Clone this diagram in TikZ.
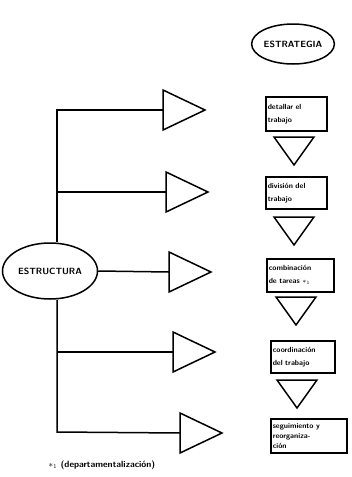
\documentclass[tikz,border=0pt]{standalone}
\usetikzlibrary{shapes.geometric,positioning}

\tikzset{
  wire/.style={line width=1.5pt},
  oval/.style={ellipse, draw, line width=1.5pt, inner sep=0pt,
    font=\sffamily\bfseries\fontsize{9}{10}\selectfont},
  taskbox/.style={draw, line width=1.5pt, anchor=north west, align=left,
    inner xsep=2pt, inner ysep=3pt,
    font=\sffamily\bfseries\fontsize{7.5}{13}\selectfont},
  downtri/.pic={\draw[wire] (-20,0) -- (20,0) -- (0,28) -- cycle;},
  righttri/.pic={\draw[wire] (0,-20) -- (0,20) -- (42,0) -- cycle;},
}

\begin{document}
\begin{tikzpicture}[x=1pt, y=-1pt]
    \useasboundingbox (0,0) rectangle (352,477);

    % strategy column at the right
    \node[oval, minimum width=76pt, minimum height=40pt] (estrategia) at (293,44) {ESTRATEGIA};

    \node[taskbox, text width=57pt, minimum height=34pt] (detallar) at (265,96) {detallar el\\trabajo};
    \pic at (294,137) {downtri};
    \node[taskbox, text width=57pt, minimum height=32pt] (division) at (265,176) {división del\\trabajo};
    \pic at (294,217) {downtri};
    \node[taskbox, text width=63pt, minimum height=33pt] (combinacion) at (266,258) {combinación\\de tareas $*_1$};
    \pic at (296,297) {downtri};
    \node[taskbox, text width=60pt, minimum height=32pt] (coordinacion) at (270,340) {coordinación\\del trabajo};
    \pic at (297,380) {downtri};
    \node[taskbox, text width=72pt, minimum height=34pt, font=\sffamily\bfseries\fontsize{7.5}{10}\selectfont] (seguimiento) at (270,418) {seguimiento y\\reorganiza-\\ción};

    % structure at the left
    \node[oval, minimum width=95pt, minimum height=56pt] (estructura) at (50,271) {ESTRUCTURA};

    \coordinate (top) at (57,110);
    \coordinate (bot) at (57,432);

    \pic at (163,110) {righttri};
    \pic at (166,192) {righttri};
    \pic at (169,272) {righttri};
    \pic at (173,352) {righttri};
    \pic at (180,433) {righttri};

    \coordinate (t1) at (163,110);
    \coordinate (t2) at (166,192);
    \coordinate (t3) at (169,272);
    \coordinate (t4) at (173,352);
    \coordinate (t5) at (180,433);

    \draw[wire] (t1) -- (top) -- (estructura.north -| top);
    \draw[wire] (estructura.south -| top) -- (bot) -- (t5);
    \draw[wire] (top |- t2) -- (t2);
    \draw[wire] (estructura.east) -- (t3);
    \draw[wire] (top |- t4) -- (t4);

    % footnote
    \node[font=\sffamily\bfseries\fontsize{9}{10}\selectfont, anchor=west] (nota) at (45,465) {$*_1$ (departamentalización)};
\end{tikzpicture}
\end{document}
